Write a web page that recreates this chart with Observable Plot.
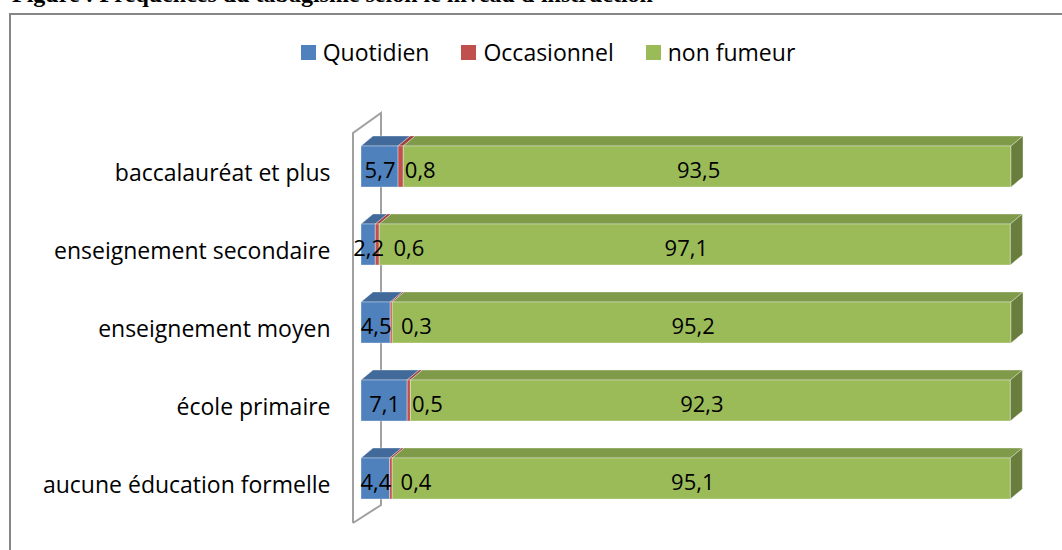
<!DOCTYPE html>
<html><head><meta charset="utf-8">
<script src="https://cdn.jsdelivr.net/npm/d3@7"></script>
<script src="https://cdn.jsdelivr.net/npm/@observablehq/plot@0.6"></script>
<style>
html,body{margin:0;padding:0;background:#fff;width:1062px;height:550px;overflow:hidden;position:relative;font-family:"Open Sans",sans-serif;}
#title{position:absolute;left:12px;top:-18px;font:bold 24px/24px "Liberation Serif",serif;white-space:nowrap;color:#000;}
#frame{position:absolute;left:9px;top:13px;width:1100px;height:600px;border:2px solid #868686;box-sizing:border-box;}
#legend{position:absolute;left:0;top:38px;width:1096px;display:flex;justify-content:center;gap:32px;font-size:23px;line-height:28px;color:#000;}
.item{display:flex;align-items:center;gap:7px}
.sw{width:15px;height:15px}
#chart{position:absolute;left:0;top:80px}
</style></head>
<body>
<div id="title">Figure : Fréquences du tabagisme selon le niveau d'instruction</div>
<div id="frame"></div>
<div id="legend"></div>
<div id="chart"></div>
<script>
const categories = ["baccalauréat et plus", "enseignement secondaire", "enseignement moyen", "école primaire", "aucune éducation formelle"];
const series = ["Quotidien", "Occasionnel", "non fumeur"];
const colors = ["#4F81BD", "#C0504D", "#9BBB59"];
const quotidien = [5.7, 2.2, 4.5, 7.1, 4.4];
const occasionnel = [0.8, 0.6, 0.3, 0.5, 0.4];
const nonFumeur = [93.5, 97.1, 95.2, 92.3, 95.1];

const valueSets = [quotidien, occasionnel, nonFumeur];
const rows = categories.flatMap((c, i) => series.map((s, j) => ({cat: c, series: s, value: valueSets[j][i]})));
// label placement: occasionnel label starts after its segment, pushed right of the quotidien label if they would collide
const LABEL_CLEAR = 3.66; // in % units (half label width + gap)
const blueLabels = categories.map((c, i) => ({cat: c, x: quotidien[i] / 2, v: quotidien[i]}));
const redLabels = categories.map((c, i) => ({cat: c, x: Math.max(quotidien[i] + occasionnel[i], quotidien[i] / 2 + LABEL_CLEAR), v: occasionnel[i]}));
const greenLabels = categories.map((c, i) => ({cat: c, x: quotidien[i] + occasionnel[i] + nonFumeur[i] / 2, v: nonFumeur[i]}));
const fmt = v => v.toFixed(1).replace(".", ",");

// legend
const legend = d3.select("#legend");
series.forEach((s, j) => {
  const it = legend.append("div").attr("class", "item");
  it.append("div").attr("class", "sw").style("background", colors[j]);
  it.append("span").text(s);
});

const DX = 12, DY = 10;

function bars3d(index, scales, values) {
  const bw = scales.y.bandwidth();
  const g = d3.create("svg:g");
  for (const i of index) {
    const a = Math.min(values.x1[i], values.x2[i]);
    const b = Math.max(values.x1[i], values.x2[i]);
    const y = values.y[i];
    const si = series.indexOf(rows[i].series);
    const c = d3.color(colors[si]);
    const top = c.darker(0.55).formatHex();
    const side = c.darker(1.1).formatHex();
    g.append("path")
      .attr("d", `M${a},${y}L${b},${y}L${b + DX},${y - DY}L${a + DX},${y - DY}Z`)
      .attr("fill", top).attr("stroke", "rgba(255,255,255,0.35)").attr("stroke-width", 1);
    g.append("rect").attr("x", a).attr("y", y).attr("width", b - a).attr("height", bw)
      .attr("fill", c.formatHex()).attr("stroke", "rgba(255,255,255,0.35)").attr("stroke-width", 1);
    if (si === series.length - 1) {
      g.append("path")
        .attr("d", `M${b},${y}L${b + DX},${y - DY}L${b + DX},${y + bw - DY}L${b},${y + bw}Z`)
        .attr("fill", side).attr("stroke", "rgba(255,255,255,0.35)").attr("stroke-width", 1);
    }
  }
  return g.node();
}

function wall(index, scales, values, dims) {
  const x0 = values.x[index[0]];
  const t = dims.marginTop, btm = dims.height - dims.marginBottom;
  const fx = x0 - 8, bx = x0 + 20;
  return d3.create("svg:path")
    .attr("d", `M${fx},${btm + 5}L${fx},${t + 5}L${bx},${t - 15}L${bx},${btm - 13}L${fx},${btm + 5}`)
    .attr("fill", "none").attr("stroke", "#A0A0A0").attr("stroke-width", 2)
    .attr("stroke-linejoin", "miter").node();
}

const chart = Plot.plot({
  width: 1062,
  height: 470,
  marginLeft: 361,
  marginRight: 51,
  marginTop: 48,
  marginBottom: 32,
  style: {fontFamily: "Open Sans", fontSize: "23px", color: "#000", background: "transparent", overflow: "visible"},
  x: {domain: [0, 100], axis: null},
  y: {domain: categories, paddingInner: 0.47, paddingOuter: 0.235, label: null},
  marks: [
    Plot.ruleX([0], {render: wall}),
    Plot.barX(rows, Plot.stackX({x: "value", y: "cat", z: "series", order: series, render: bars3d})),
    Plot.axisY({tickSize: 0, tickPadding: 31, dy: 7, fontSize: 23, label: null}),
    Plot.text(blueLabels, {x: "x", y: "cat", text: d => fmt(d.v), dy: 4, fontSize: 22, fill: "#000"}),
    Plot.text(redLabels, {x: "x", y: "cat", text: d => fmt(d.v), dy: 4, dx: 1, textAnchor: "start", fontSize: 22, fill: "#000"}),
    Plot.text(greenLabels, {x: "x", y: "cat", text: d => fmt(d.v), dy: 4, dx: -9, fontSize: 22, fill: "#000"})
  ]
});
document.getElementById("chart").append(chart);
</script>
</body></html>
